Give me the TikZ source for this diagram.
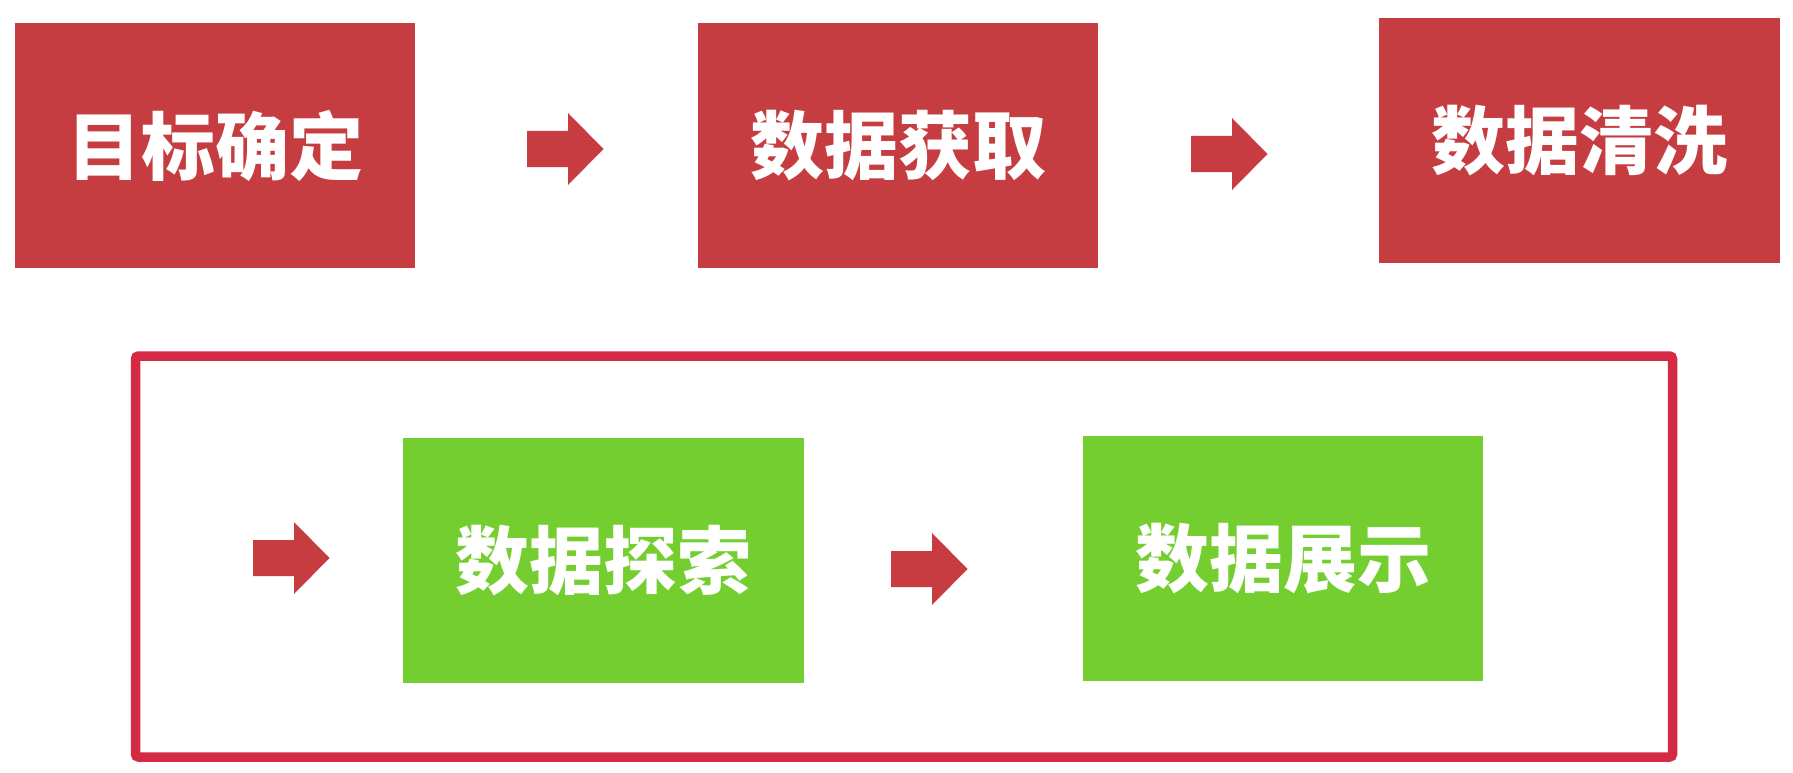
\documentclass[tikz,border=0pt]{standalone}
\usepackage{fontspec}
\newfontfamily\cjk{Noto Sans CJK SC}[BoldFont={Noto Sans CJK SC Black}]
\definecolor{boxred}{HTML}{C63D41}
\definecolor{arrowred}{HTML}{C63C40}
\definecolor{framered}{HTML}{D52A45}
\definecolor{boxgreen}{HTML}{74CE2F}
\newcommand\blkarrow[2]{%
  \fill[arrowred] (#1,#2-18) -- ++(41,0) -- ++(0,-18) -- (#1+76.5,#2) -- (#1+41,#2+36) -- ++(0,-18) -- (#1,#2+18) -- cycle;}
\tikzset{
  stagebox/.style={minimum width=400pt, minimum height=245pt, inner sep=0pt,
    text=white, font=\cjk\bfseries\fontsize{74}{80}\selectfont},
  redstage/.style={stagebox, fill=boxred},
  greenstage/.style={stagebox, fill=boxgreen},
  groupframe/.style={draw=framered, line width=9.5pt, rounded corners=3pt}
}
\begin{document}
\begin{tikzpicture}[x=1pt,y=-1pt]
\useasboundingbox (0,0) rectangle (1793,773);
\fill[white] (0,0) rectangle (1793,773);
\node[redstage] (b1) at (215,145.5) {\raisebox{-3pt}{目标确定}};
\node[redstage] (b2) at (898,145.5) {\raisebox{-3pt}{数据获取}};
\node[redstage, minimum width=401pt] (b3) at (1579.5,140.5) {\raisebox{-3pt}{数据清洗}};
\node[greenstage, minimum width=401pt] (g1) at (603.5,560.5) {\raisebox{-3pt}{数据探索}};
\node[greenstage] (g2) at (1283,558.5) {\raisebox{-3pt}{数据展示}};
\draw[groupframe] (135.5,356) rectangle (1672.5,757);
\blkarrow{527}{149}
\blkarrow{1191}{154}
\blkarrow{253}{558}
\blkarrow{891}{569}
\end{tikzpicture}
\end{document}
